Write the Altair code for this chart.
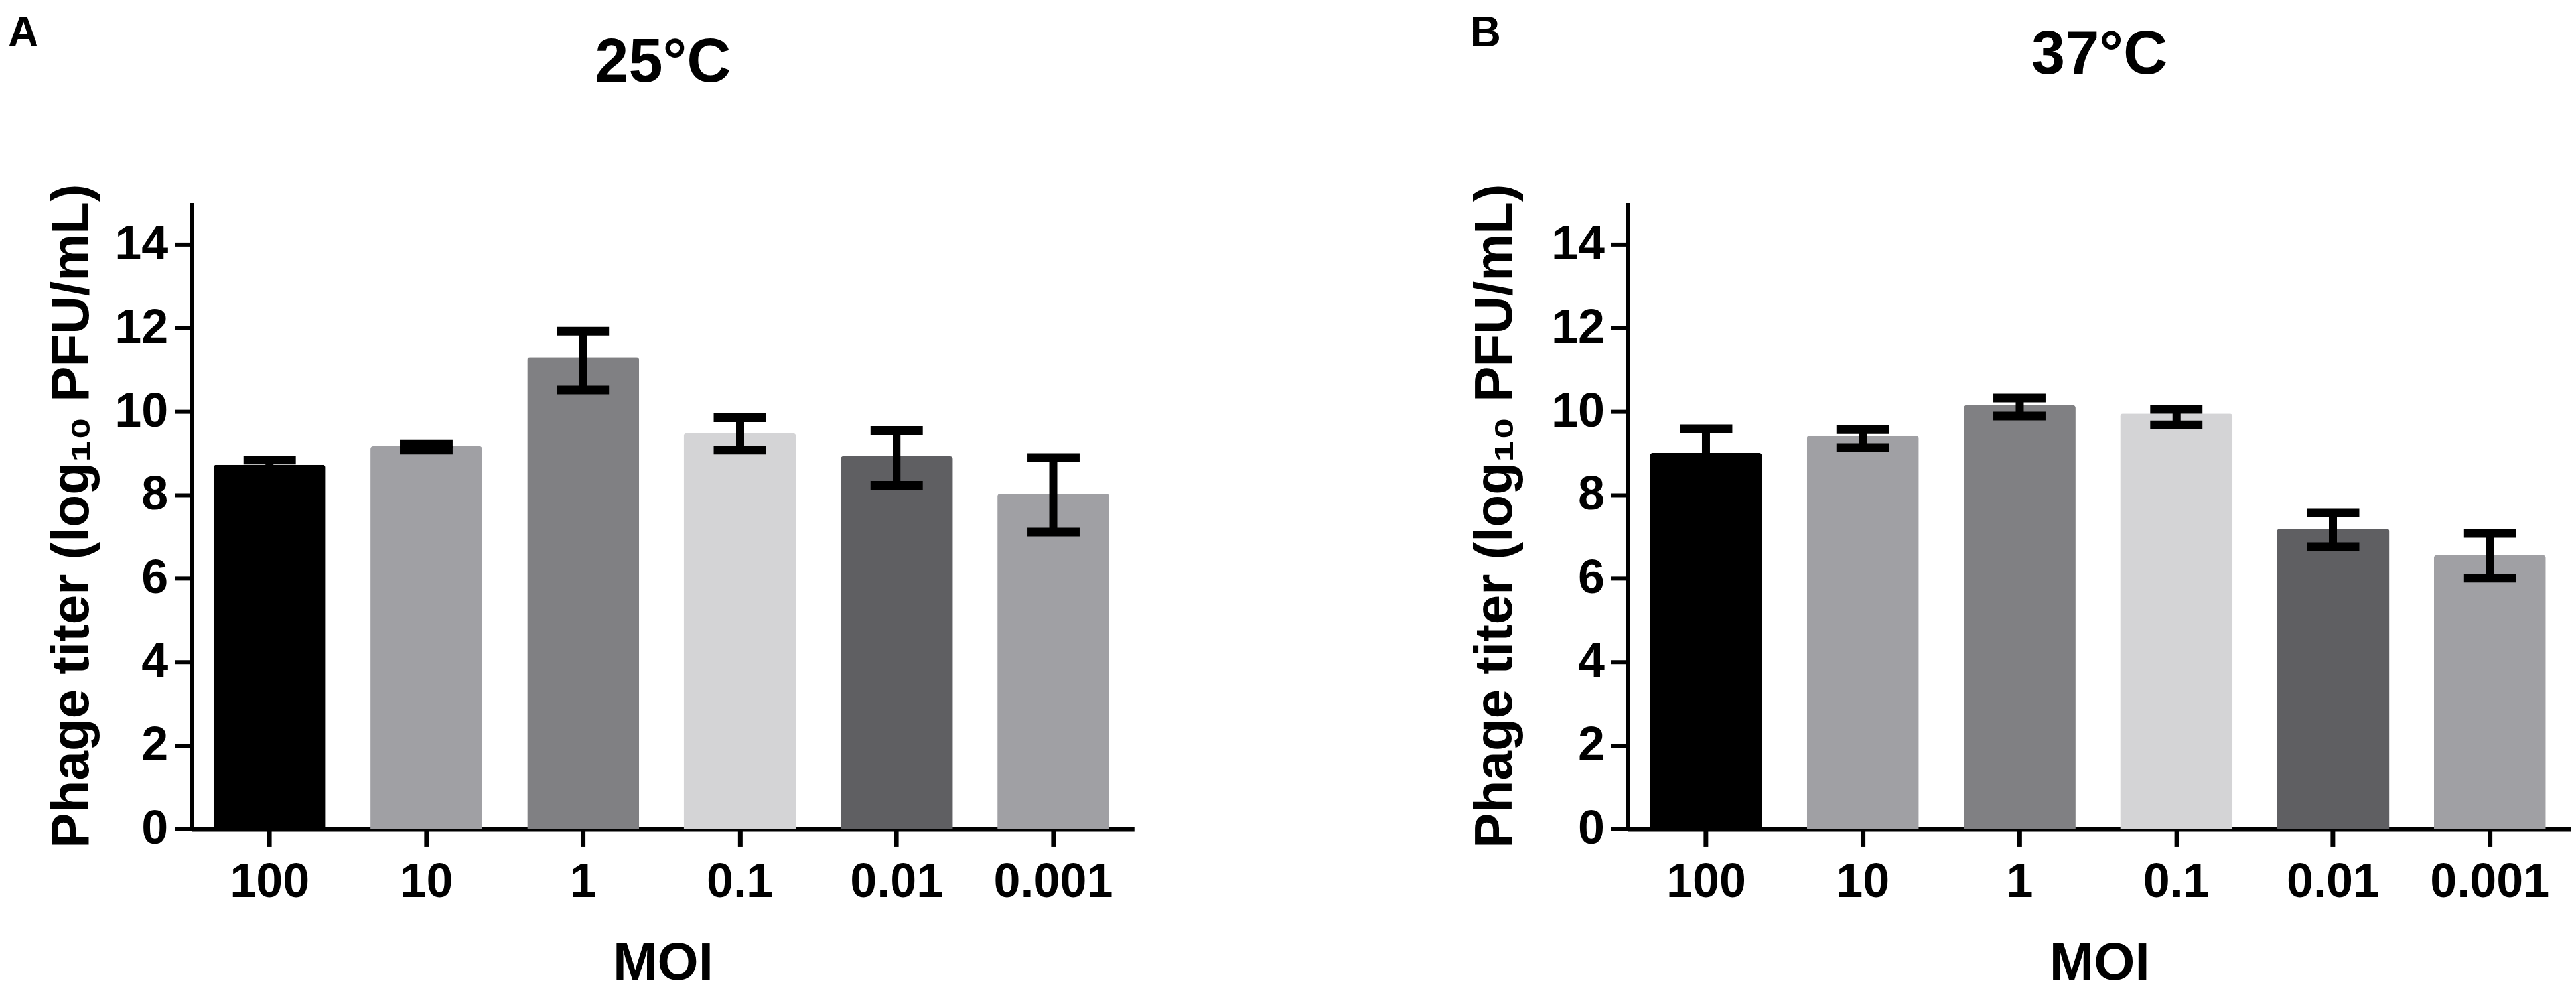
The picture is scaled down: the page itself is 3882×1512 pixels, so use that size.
import altair as alt
import pandas as pd

# ---- data ----
moi = ["100", "10", "1", "0.1", "0.01", "0.001"]
bar_colors = ["#000000", "#a0a0a4", "#808083", "#d4d4d6", "#5f5f62", "#a0a0a4"]

mean_25 = [8.72, 9.16, 11.30, 9.48, 8.92, 8.03]
low_25 = [8.60, 9.07, 10.51, 9.07, 8.23, 7.11]
high_25 = [8.83, 9.22, 11.92, 9.85, 9.55, 8.89]

mean_37 = [9.00, 9.42, 10.15, 9.95, 7.19, 6.56]
low_37 = [8.41, 9.13, 9.89, 9.68, 6.76, 6.00]
high_37 = [9.59, 9.57, 10.32, 10.05, 7.57, 7.08]

y_ticks = [0, 2, 4, 6, 8, 10, 12, 14]

W, H = 1422, 945
FONT = "Liberation Sans"


def panel(letter, title, mean, low, high, ytitle_x, letter_x, letter_y, title_y):
    df = pd.DataFrame({"MOI": moi, "mean": mean, "low": low, "high": high,
                       "color": bar_colors})
    xenc = alt.X(
        "MOI:N", sort=moi,
        scale=alt.Scale(paddingInner=0.2854, paddingOuter=0.149, align=0.47),
        axis=alt.Axis(
            title="MOI", titleFont=FONT, titleFontSize=80, titleFontWeight="bold",
            titleColor="black", titleY=227, titleBaseline="alphabetic",
            labelAngle=0, labelFont=FONT, labelFontSize=72, labelFontWeight="bold",
            labelColor="black", labelPadding=18, labelLimit=600,
            tickSize=27, tickWidth=7, tickColor="black",
            domainWidth=7, domainColor="black", grid=False,
        ),
    )
    yscale = alt.Scale(domain=[0, 15], nice=False)
    yaxis = alt.Axis(
        values=y_ticks, format="d", title="Phage titer (log\u2081\u2080 PFU/mL)",
        titleFont=FONT, titleFontSize=80, titleFontWeight="bold", titleColor="black",
        titleX=ytitle_x, titleY=H / 2, titleBaseline="alphabetic", titleAngle=270,
        labelFont=FONT, labelFontSize=72, labelFontWeight="bold", labelColor="black",
        labelPadding=10, labelLimit=600, tickSize=26, tickWidth=6, tickColor="black",
        domainWidth=6, domainColor="black", grid=False,
    )
    base = alt.Chart(df)
    bars = base.mark_bar(cornerRadiusTopLeft=4, cornerRadiusTopRight=4, opacity=1).encode(
        x=xenc,
        y=alt.Y("mean:Q", scale=yscale, axis=yaxis),
        color=alt.Color("color:N", scale=None),
    )
    stem = base.mark_rule(color="black", strokeWidth=12, opacity=1).encode(
        x=alt.X("MOI:N", sort=moi), y=alt.Y("low:Q"), y2="high:Q"
    )
    cap_hi = base.mark_tick(color="black", size=79, thickness=13, opacity=1).encode(
        x=alt.X("MOI:N", sort=moi), y=alt.Y("high:Q")
    )
    cap_lo = base.mark_tick(color="black", size=79, thickness=13, opacity=1).encode(
        x=alt.X("MOI:N", sort=moi), y=alt.Y("low:Q")
    )
    tdf = pd.DataFrame({"t": [title]})
    ttl = alt.Chart(tdf).mark_text(
        font=FONT, fontSize=92, fontWeight="bold", color="black",
        align="center", baseline="alphabetic",
    ).encode(text="t:N", x=alt.value(W / 2), y=alt.value(title_y))
    ldf = pd.DataFrame({"t": [letter]})
    let = alt.Chart(ldf).mark_text(
        font=FONT, fontSize=64, fontWeight="bold", color="black",
        align="left", baseline="alphabetic",
    ).encode(text="t:N", x=alt.value(letter_x), y=alt.value(letter_y))
    return alt.layer(bars, stem, cap_hi, cap_lo, ttl, let).properties(width=W, height=H)


pa = panel("A", "25\u00b0C", mean_25, low_25, high_25, -156, -277, -236, -183)
pb = panel("B", "37\u00b0C", mean_37, low_37, high_37, -176, -238, -236, -195)

chart = alt.hconcat(pa, pb, spacing=504).properties(
    padding={"top": 10, "left": 4, "right": 0, "bottom": 0}, background="white"
).configure_view(stroke=None)

chart.save("out.html", embed_options={"renderer": "svg", "actions": False})
